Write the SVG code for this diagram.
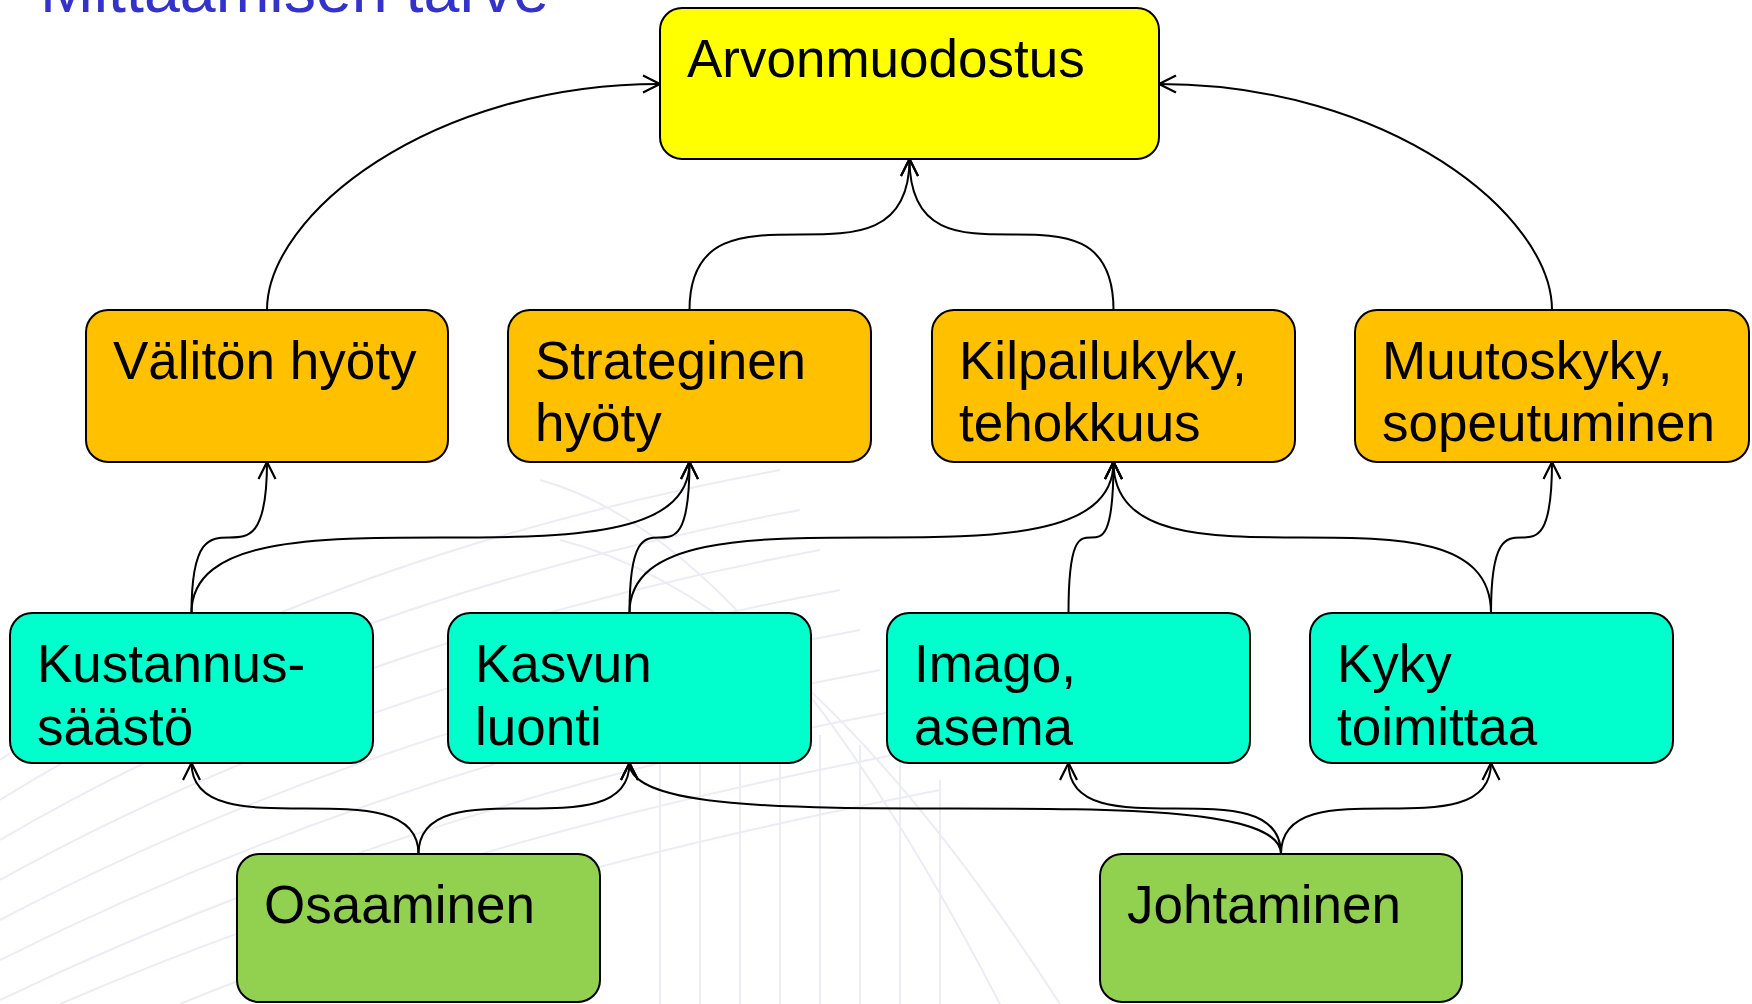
<svg xmlns="http://www.w3.org/2000/svg" width="1752" height="1004" viewBox="0 0 1752 1004">
  <style>
    .box{stroke:#000;stroke-width:2}
    .top{fill:#FFFF00}
    .mid{fill:#FFC000}
    .low{fill:#00FFCC}
    .base{fill:#92D050}
    .lbl{font-family:"Liberation Sans",Arial,sans-serif;font-size:53px;fill:#000}
    .edge{fill:none;stroke:#000;stroke-width:2;marker-end:url(#arr)}
    .bg{fill:none;stroke:#ECECF6;stroke-width:2}
  </style>
  <defs>
    <marker id="arr" markerUnits="userSpaceOnUse" markerWidth="24" markerHeight="24" refX="18" refY="9.5" orient="auto" overflow="visible">
      <path d="M1,1 L18,9.5 L1,18" fill="none" stroke="#000" stroke-width="2.2"/>
    </marker>
  </defs>
  <rect width="1752" height="1004" fill="#fff"/>
  <g id="background">
    <path class="bg" d="M0,760 Q300,560 780,470"/>
    <path class="bg" d="M0,800 Q320,600 800,510"/>
    <path class="bg" d="M0,840 Q340,640 820,550"/>
    <path class="bg" d="M0,880 Q360,680 840,590"/>
    <path class="bg" d="M0,920 Q380,720 860,630"/>
    <path class="bg" d="M0,960 Q400,760 880,670"/>
    <path class="bg" d="M0,1000 Q420,800 900,710"/>
    <path class="bg" d="M60,1004 Q440,840 920,750"/>
    <path class="bg" d="M180,1004 Q480,880 940,790"/>
    <path class="bg" d="M540,480 Q760,540 1000,1004"/>
    <path class="bg" d="M560,540 Q800,600 1060,1004"/>
    <path class="bg" d="M660,760 L660,1004"/>
    <path class="bg" d="M700,740 L700,1004"/>
    <path class="bg" d="M740,730 L740,1004"/>
    <path class="bg" d="M780,730 L780,1004"/>
    <path class="bg" d="M820,735 L820,1004"/>
    <path class="bg" d="M860,745 L860,1004"/>
    <path class="bg" d="M900,760 L900,1004"/>
    <path class="bg" d="M940,780 L940,1004"/>
  </g>
  <text id="title" x="40" y="12" font-family="Liberation Sans, Arial, sans-serif" font-size="64.5" fill="#3333CC">Mittaamisen tarve</text>
  <g id="connectors">
    <path id="e1" class="edge" d="M191.5,613 C191.5,537.5 210.4,537.5 229.25,537.5 C248.1,537.5 267,537.5 267,462"/>
    <path id="e2" class="edge" d="M191.5,613 C191.5,537.5 316,537.5 440.5,537.5 C565,537.5 689.5,537.5 689.5,462"/>
    <path id="e3" class="edge" d="M629.5,613 C629.5,537.5 644.5,537.5 659.5,537.5 C674.5,537.5 689.5,537.5 689.5,462"/>
    <path id="e4" class="edge" d="M629.5,613 C629.5,537.5 750.5,537.5 871.5,537.5 C992.5,537.5 1113.5,537.5 1113.5,462"/>
    <path id="e5" class="edge" d="M1068.5,613 C1068.5,537.5 1079.75,537.5 1091,537.5 C1102.25,537.5 1113.5,537.5 1113.5,462"/>
    <path id="e6" class="edge" d="M1491,613 C1491,537.5 1396.6,537.5 1302.25,537.5 C1207.9,537.5 1113.5,537.5 1113.5,462"/>
    <path id="e7" class="edge" d="M1491,613 C1491,537.5 1506.25,537.5 1521.5,537.5 C1536.75,537.5 1552,537.5 1552,462"/>
    <path id="e8" class="edge" d="M418.5,854 C418.5,808.5 361.75,808.5 305,808.5 C248.25,808.5 191.5,808.5 191.5,763"/>
    <path id="e9" class="edge" d="M418.5,854 C418.5,808.5 471.25,808.5 524,808.5 C576.75,808.5 629.5,808.5 629.5,763"/>
    <path id="e10" class="edge" d="M1281,854 C1281,808.5 1118.1,808.5 955.25,808.5 C792.4,808.5 629.5,808.5 629.5,763"/>
    <path id="e11" class="edge" d="M1281,854 C1281,808.5 1227.9,808.5 1174.75,808.5 C1121.6,808.5 1068.5,808.5 1068.5,763"/>
    <path id="e12" class="edge" d="M1281,854 C1281,808.5 1333.5,808.5 1386,808.5 C1438.5,808.5 1491,808.5 1491,763"/>
    <path id="e13" class="edge" d="M689.5,310 C689.5,234.5 744.5,234.5 799.5,234.5 C854.5,234.5 909.5,234.5 909.5,159"/>
    <path id="e14" class="edge" d="M1113.5,310 C1113.5,234.5 1062.5,234.5 1011.5,234.5 C960.5,234.5 909.5,234.5 909.5,159"/>
    <path id="e15" class="edge" d="M267,310 C267,215 430,84 660,84"/>
    <path id="e16" class="edge" d="M1552,310 C1552,215 1389,84 1159,84"/>
  </g>
  <g id="arvonmuodostus">
    <rect class="box top" x="660" y="8" width="499" height="151" rx="22"/>
    <text class="lbl" x="687" y="77">Arvonmuodostus</text>
  </g>
  <g id="valiton">
    <rect class="box mid" x="86" y="310" width="362" height="152" rx="22"/>
    <text class="lbl" x="113" y="379">Välitön hyöty</text>
  </g>
  <g id="strateginen">
    <rect class="box mid" x="508" y="310" width="363" height="152" rx="22"/>
    <text class="lbl" x="535" y="379">Strateginen</text>
    <text class="lbl" x="535" y="441">hyöty</text>
  </g>
  <g id="kilpailukyky">
    <rect class="box mid" x="932" y="310" width="363" height="152" rx="22"/>
    <text class="lbl" x="959" y="379">Kilpailukyky,</text>
    <text class="lbl" x="959" y="441">tehokkuus</text>
  </g>
  <g id="muutoskyky">
    <rect class="box mid" x="1355" y="310" width="394" height="152" rx="22"/>
    <text class="lbl" x="1382" y="379">Muutoskyky,</text>
    <text class="lbl" x="1382" y="441">sopeutuminen</text>
  </g>
  <g id="kustannus">
    <rect class="box low" x="10" y="613" width="363" height="150" rx="22"/>
    <text class="lbl" x="37" y="682">Kustannus-</text>
    <text class="lbl" x="37" y="745">säästö</text>
  </g>
  <g id="kasvun">
    <rect class="box low" x="448" y="613" width="363" height="150" rx="22"/>
    <text class="lbl" x="475" y="682">Kasvun</text>
    <text class="lbl" x="475" y="745">luonti</text>
  </g>
  <g id="imago">
    <rect class="box low" x="887" y="613" width="363" height="150" rx="22"/>
    <text class="lbl" x="914" y="682">Imago,</text>
    <text class="lbl" x="914" y="745">asema</text>
  </g>
  <g id="kyky">
    <rect class="box low" x="1310" y="613" width="363" height="150" rx="22"/>
    <text class="lbl" x="1337" y="682">Kyky</text>
    <text class="lbl" x="1337" y="745">toimittaa</text>
  </g>
  <g id="osaaminen">
    <rect class="box base" x="237" y="854" width="363" height="148" rx="22"/>
    <text class="lbl" x="264" y="923">Osaaminen</text>
  </g>
  <g id="johtaminen">
    <rect class="box base" x="1100" y="854" width="362" height="148" rx="22"/>
    <text class="lbl" x="1127" y="923">Johtaminen</text>
  </g>
</svg>
